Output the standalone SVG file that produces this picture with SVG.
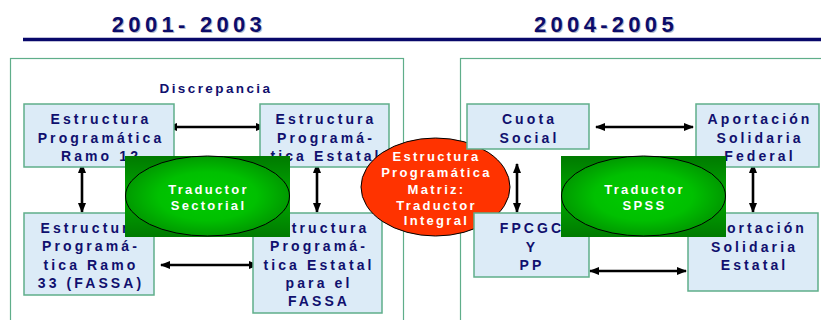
<svg xmlns="http://www.w3.org/2000/svg" width="821" height="320" viewBox="0 0 821 320">
<defs>
<linearGradient id="gRect" x1="0" y1="0" x2="0" y2="1">
<stop offset="0" stop-color="#007a00"/>
<stop offset="0.5" stop-color="#00a800"/>
<stop offset="1" stop-color="#007a00"/>
</linearGradient>
<radialGradient id="gEll" cx="0.5" cy="0.5" r="0.5">
<stop offset="0" stop-color="#00cc00"/>
<stop offset="0.6" stop-color="#00c000"/>
<stop offset="1" stop-color="#009a00"/>
</radialGradient>
<marker id="ah" viewBox="0 0 10 10" refX="9" refY="5" markerWidth="4" markerHeight="4" orient="auto-start-reverse">
<path d="M0,1 L10,5 L0,9 Z" fill="#000"/>
</marker>
<style>
.hdr{font-family:"Liberation Sans",Arial,sans-serif;font-weight:bold;font-size:22px;fill:#0c0c6a;letter-spacing:4.3px;text-anchor:middle}
.shd{fill:#b8b8c8}
.frame{fill:none;stroke:#5fae8a;stroke-width:1.2}
.box{fill:#dcebf7;stroke:#5fae8a;stroke-width:1.5}
.bt{font-family:"Liberation Sans",Arial,sans-serif;font-weight:bold;font-size:14px;fill:#10106e;letter-spacing:3.1px;text-anchor:middle}
.wt{font-family:"Liberation Sans",Arial,sans-serif;font-weight:bold;font-size:13px;fill:#ffffff;letter-spacing:2.3px;text-anchor:middle}
.gr{fill:url(#gRect)}
.ge{fill:url(#gEll);stroke:#000;stroke-width:1}
.arr{stroke:#000;stroke-width:2.6;fill:none;marker-start:url(#ah);marker-end:url(#ah)}
</style>
</defs>
<rect width="821" height="320" fill="#ffffff"/>

<g id="headers">
<text class="hdr shd" x="190" y="33">2001- 2003</text>
<text class="hdr" x="189" y="32">2001- 2003</text>
<text class="hdr shd" x="607" y="33">2004-2005</text>
<text class="hdr" x="606" y="32">2004-2005</text>
<line x1="23" y1="39.5" x2="821" y2="39.5" stroke="#08086a" stroke-width="3.5"/>
</g>

<g id="frames">
<rect class="frame" x="10.5" y="58.5" width="393" height="270"/>
<rect class="frame" x="460.5" y="58.5" width="370" height="270"/>
</g>

<g id="label-discrepancia">
<text class="bt" x="216" y="93" style="font-size:13.5px;letter-spacing:2.4px">Discrepancia</text>
</g>

<g id="connectors">
<line class="arr" x1="168" y1="127" x2="265" y2="127"/>
<line class="arr" x1="82" y1="164" x2="82" y2="212"/>
<line class="arr" x1="317" y1="164" x2="317" y2="212"/>
<line class="arr" x1="161" y1="265" x2="258" y2="265"/>
<line class="arr" x1="596" y1="127" x2="693" y2="127"/>
<line class="arr" x1="517" y1="164" x2="517" y2="212"/>
<line class="arr" x1="753" y1="164" x2="753" y2="212"/>
<line class="arr" x1="590" y1="271" x2="686" y2="271"/>
</g>

<g id="n-ramo12">
<rect class="box" x="24" y="104" width="150" height="63"/>
<text class="bt" x="101" y="124">Estructura</text>
<text class="bt" x="101" y="142.5">Programática</text>
<text class="bt" x="101" y="161">Ramo 12</text>
</g>

<g id="n-estatal">
<rect class="box" x="260" y="104" width="129" height="63"/>
<text class="bt" x="326" y="124">Estructura</text>
<text class="bt" x="326" y="142.5">Programá-</text>
<text class="bt" x="326" y="161">tica Estatal</text>
</g>

<g id="n-ramo33">
<rect class="box" x="24" y="213" width="130" height="82"/>
<text class="bt" x="91" y="233">Estructura</text>
<text class="bt" x="91" y="251.3">Programá-</text>
<text class="bt" x="91" y="269.6">tica Ramo</text>
<text class="bt" x="91" y="288">33 (FASSA)</text>
</g>

<g id="n-estatal-fassa">
<rect class="box" x="253" y="213" width="129" height="100"/>
<text class="bt" x="319" y="233">Estructura</text>
<text class="bt" x="319" y="251.3">Programá-</text>
<text class="bt" x="319" y="269.6">tica Estatal</text>
<text class="bt" x="319" y="288">para el</text>
<text class="bt" x="319" y="306.3">FASSA</text>
</g>

<g id="n-traductor-sectorial">
<rect class="gr" x="125" y="156" width="165" height="81"/>
<ellipse class="ge" cx="207.5" cy="196" rx="82" ry="40"/>
<text class="wt" x="208.5" y="194">Traductor</text>
<text class="wt" x="208.5" y="210">Sectorial</text>
</g>

<g id="n-matriz">
<ellipse cx="435.5" cy="187" rx="74.5" ry="49" fill="#ff3300" stroke="#000" stroke-width="1"/>
<text class="wt" x="436.5" y="161">Estructura</text>
<text class="wt" x="436.5" y="177">Programática</text>
<text class="wt" x="436.5" y="193.5">Matriz:</text>
<text class="wt" x="436.5" y="209.5">Traductor</text>
<text class="wt" x="436.5" y="225">Integral</text>
</g>

<g id="n-cuota">
<rect class="box" x="467" y="104" width="122" height="45"/>
<text class="bt" x="529.5" y="124">Cuota</text>
<text class="bt" x="529.5" y="142.5">Social</text>
</g>

<g id="n-federal">
<rect class="box" x="696" y="104" width="123" height="63"/>
<text class="bt" x="760" y="124">Aportación</text>
<text class="bt" x="760" y="142.5">Solidaria</text>
<text class="bt" x="760" y="161">Federal</text>
</g>

<g id="n-fpcgc">
<rect class="box" x="474" y="213" width="115" height="64"/>
<text class="bt" x="532" y="233">FPCGC</text>
<text class="bt" x="532" y="251.5">Y</text>
<text class="bt" x="532" y="269.5">PP</text>
</g>

<g id="n-estatal2">
<rect class="box" x="688" y="213" width="130" height="78"/>
<text class="bt" x="754.5" y="233">Aportación</text>
<text class="bt" x="754.5" y="251.5">Solidaria</text>
<text class="bt" x="754.5" y="269.5">Estatal</text>
</g>

<g id="n-traductor-spss">
<rect class="gr" x="561" y="156" width="165" height="81"/>
<ellipse class="ge" cx="643.5" cy="196" rx="82" ry="40"/>
<text class="wt" x="644.5" y="194">Traductor</text>
<text class="wt" x="644.5" y="210">SPSS</text>
</g>
</svg>
